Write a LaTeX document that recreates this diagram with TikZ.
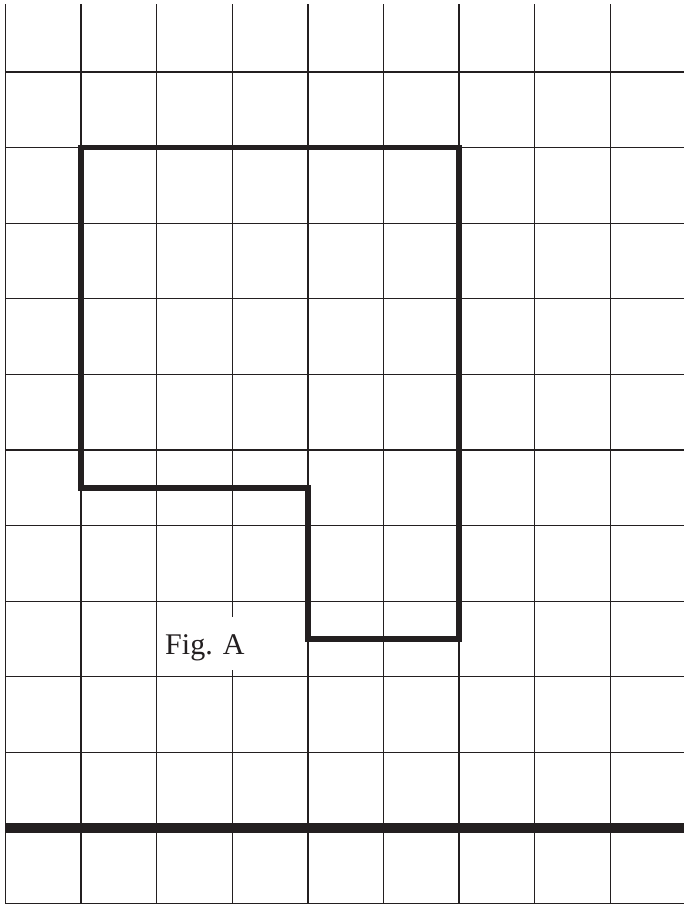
\documentclass[tikz,border=0pt]{standalone}
\usepackage{fontspec}
\setmainfont{Liberation Serif}
\definecolor{ink}{HTML}{231F20}
\begin{document}
\begin{tikzpicture}[x=1cm,y=1cm,
  gridline/.style={draw=ink,line width=0.5pt},
  outline/.style={draw=ink,line width=2.1pt,line join=miter},
  baseline/.style={draw=ink,line width=4pt},
  figlabel/.style={fill=white,inner xsep=3pt,inner ysep=0pt,text height=0.49cm,text depth=0.21cm,anchor=base,font=\fontsize{11.3}{13}\selectfont,text=ink}]
\useasboundingbox (-0.073,-0.0185) rectangle (8.969,11.953);
% vertical grid lines
\foreach \i in {0,...,8}
  \draw[gridline] (\i,0) -- (\i,11.9);
% horizontal grid lines
\foreach \j in {0,...,11}
  \draw[gridline] (0,\j) -- (8.969,\j);
% thick base line
\draw[baseline] (0,1) -- (8.969,1);
% figure outline
\draw[outline] (1,10) -- (6,10) -- (6,3.5) -- (4,3.5) -- (4,5.5) -- (1,5.5) -- cycle;
% label
\node[figlabel] (lab) at (2.637,3.30) {Fig. A};
\end{tikzpicture}
\end{document}
